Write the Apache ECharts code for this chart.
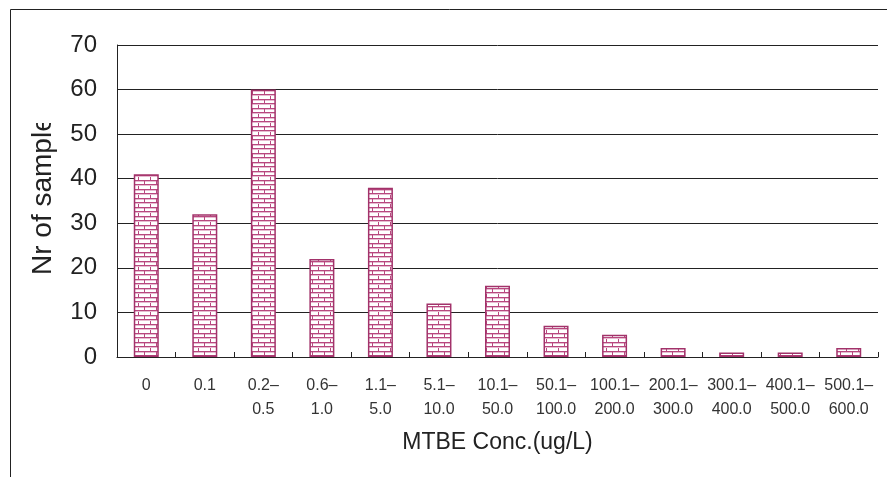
<!DOCTYPE html>
<html>
<head>
<meta charset="utf-8">
<script src="https://cdn.jsdelivr.net/npm/echarts@6/dist/echarts.min.js"></script>
<style>
  html, body { margin: 0; padding: 0; background: #fff; }
  #chart { width: 887px; height: 477px; }
</style>
</head>
<body>
<div id="chart"></div>
<script>
// MTBE concentration classes (ug/L) and number of samples per class
const categories = [
  '0', '0.1', '0.2\u2013\n0.5', '0.6\u2013\n1.0', '1.1\u2013\n5.0', '5.1\u2013\n10.0',
  '10.1\u2013\n50.0', '50.1\u2013\n100.0', '100.1\u2013\n200.0', '200.1\u2013\n300.0',
  '300.1\u2013\n400.0', '400.1\u2013\n500.0', '500.1\u2013\n600.0'
];
const sampleCounts = [41, 32, 60, 22, 38, 12, 16, 7, 5, 2, 1, 1, 2];
const yTicks = { min: 0, max: 70, step: 10 };

const FONT = '"Liberation Sans", Arial, sans-serif';
const MAGENTA = '#A2326A';

// brick hatch used to fill the bars
function brickPattern() {
  const c = document.createElement('canvas');
  c.width = 12; c.height = 9;
  const g = c.getContext('2d');
  g.fillStyle = '#ffffff';
  g.fillRect(0, 0, 12, 9);
  g.fillStyle = '#B8487F';
  g.fillRect(0, 0, 12, 1);
  g.fillRect(0, 4, 12, 1);
  g.fillRect(0, 1, 1, 3);
  g.fillRect(6, 5, 1, 4);
  g.fillStyle = '#E7BCD1';
  g.fillRect(1, 1, 11, 1);
  g.fillRect(0, 5, 12, 1);
  return c;
}

const chart = echarts.init(document.getElementById('chart'), null, { renderer: 'canvas' });

chart.setOption({
  backgroundColor: '#ffffff',
  animation: false,
  grid: { left: 117, right: 9, top: 45, bottom: 120, containLabel: false },
  xAxis: {
    type: 'category',
    data: categories,
    axisLine: { lineStyle: { color: '#222', width: 1 } },
    axisTick: { show: true, inside: true, length: 5, alignWithLabel: false, lineStyle: { color: '#222' } },
    axisLabel: {
      interval: 0, margin: 17, fontSize: 16, lineHeight: 24,
      color: '#333', fontFamily: FONT
    },
    name: 'MTBE Conc.(ug/L)',
    nameLocation: 'middle',
    nameGap: 74,
    nameTextStyle: { fontSize: 23, color: '#222', fontFamily: FONT }
  },
  yAxis: {
    type: 'value',
    min: yTicks.min, max: yTicks.max, interval: yTicks.step,
    axisLine: { show: true, lineStyle: { color: '#222', width: 1 } },
    axisTick: { show: true, inside: true, length: 6, lineStyle: { color: '#222' } },
    axisLabel: { margin: 20, fontSize: 24, color: '#222', fontFamily: FONT },
    splitLine: { show: true, lineStyle: { color: '#222', width: 1 } }
  },
  series: [{
    type: 'bar',
    data: sampleCounts,
    barWidth: 25,
    itemStyle: {
      color: { image: brickPattern(), repeat: 'repeat' },
      borderColor: MAGENTA,
      borderWidth: 1.5
    }
  }],
  graphic: [
    // outer frame (top and left edges visible)
    {
      type: 'rect', z: 100,
      shape: { x: 10.5, y: 9.5, width: 1000, height: 600 },
      style: { fill: null, stroke: '#222', lineWidth: 1 }
    },
    // vertical axis title
    {
      type: 'text', z: 50,
      x: 43, y: 275, rotation: Math.PI / 2,
      style: {
        text: 'Nr of samples', fontSize: 28, fontFamily: FONT, fill: '#222',
        textAlign: 'left', textVerticalAlign: 'middle'
      }
    },
    // the title is cut off above the plot's upper region
    {
      type: 'rect', z: 60,
      shape: { x: 20, y: 11, width: 42, height: 112 },
      style: { fill: '#ffffff' }
    }
  ]
});
</script>
</body>
</html>
